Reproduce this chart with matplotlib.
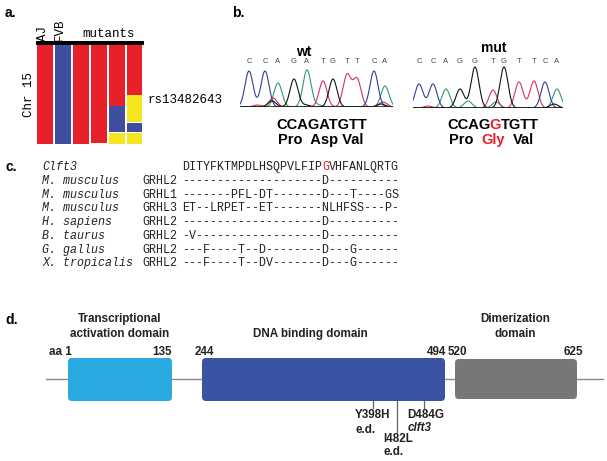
import matplotlib
matplotlib.use("Agg")
import matplotlib.pyplot as plt
import numpy as np
from matplotlib.font_manager import FontProperties
from matplotlib.patches import FancyBboxPatch
from matplotlib.textpath import TextPath

# ---- panel a: haplotype lanes (segments along Chr 15, 0 = top, 100 = bottom)
lane_labels = ["AJ", "FVB"]
lane_segments = [
    [(0, 100, "AJ")],
    [(0, 100, "FVB")],
    [(0, 100, "AJ")],
    [(0, 99, "AJ")],
    [(0, 61.6, "AJ"), (61.6, 87.9, "FVB"), (88.9, 100, "het")],
    [(0, 50.5, "AJ"), (50.5, 77.8, "het"), (78.5, 87.9, "FVB"), (89.2, 100, "het")],
]
marker_name = "rs13482643"

# ---- panel b: chromatograms (scan position, peak height, base)
wt_bases = list("CCAGATGTTCA")
wt_pos = [9, 25, 38, 54, 67, 83, 93, 107, 117, 134, 145]
wt_height = [36, 36, 24, 28, 37, 26, 28, 32, 28, 36, 21]
wt_minor_pos = [17, 33, 32, 66, 78, 143, 141]
wt_minor_height = [2, 9, 6, 2, 2, 5, 3]
wt_minor_base = ["T", "T", "G", "G", "A", "T", "G"]

mut_bases = list("CCAGGTGTTCA")
mut_pos = [6, 20, 33, 47, 62, 80, 91, 106, 121, 132, 144]
mut_height = [24, 24, 19, 19, 41, 18, 41, 26, 27, 26, 19]
mut_minor_pos = [55, 83, 15, 141]
mut_minor_height = [7, 6, 2, 4]
mut_minor_base = ["A", "A", "T", "G"]

wt_codons = "CCAGATGTT"
wt_aa = "Pro  Asp Val"
mut_codons = ["CCAG", "G", "TGTT"]
mut_aa = ["Pro", "Gly", "Val"]

# ---- panel c: alignment
ref_name = "Clft3"
ref_seq = "DITYFKTMPDLHSQPVLFIPGVHFANLQRTG"
mut_index = 20
species = ["M. musculus", "M. musculus", "M. musculus", "H. sapiens",
           "B. taurus", "G. gallus", "X. tropicalis"]
genes = ["GRHL2", "GRHL1", "GRHL3", "GRHL2", "GRHL2", "GRHL2", "GRHL2"]
aligned = [
    "--------------------D----------",
    "-------PFL-DT-------D---T----GS",
    "ET--LRPET--ET-------NLHFSS---P-",
    "--------------------D----------",
    "-V------------------D----------",
    "---F----T--D--------D---G------",
    "---F----T--DV-------D---G------",
]

# ---- panel d: GRHL2 domains
domain_names = ["Transcriptional\nactivation domain", "DNA binding domain",
                "Dimerization\ndomain"]
domain_start = [1, 244, 520]
domain_end = [135, 494, 625]
mutations = ["Y398H", "I482L", "D484G"]
mutation_note = ["e.d.", "e.d.", "clft3"]

RED = "#e8202a"
BLUE = "#3f4fa0"
YELLOW = "#f6e620"
hap_color = {"AJ": RED, "FVB": BLUE, "het": YELLOW}
trace_color = {"A": "#2f9a6a", "C": "#2f3f9c", "G": "#111111", "T": "#d6315f"}
domain_color = ["#29abe2", "#3a53a4", "#777777"]

W, H = 607, 461
fig = plt.figure(figsize=(W / 100, H / 100), dpi=100)
ax = fig.add_axes([0, 0, 1, 1])
ax.set_xlim(0, W)
ax.set_ylim(H, 0)
ax.axis("off")


def px_axes(x0, y0, x1, y1):
    a = fig.add_axes([x0 / W, 1 - y1 / H, (x1 - x0) / W, (y1 - y0) / H])
    a.axis("off")
    return a


SANS = "Liberation Sans"
MONO = "Liberation Mono"
for lbl, (x, y) in zip(["a.", "b.", "c.", "d."],
                       [(5, 13), (232, 13), (5, 167), (5, 320)]):
    ax.text(x, y, lbl, family=SANS, weight="bold", size=10, va="center")

# ---- panel a
axa = px_axes(36, 41.5, 143.5, 144)
axa.set_xlim(-0.5, 5.5)
axa.set_ylim(100, -3.2)
for i, segs in enumerate(lane_segments):
    for s, e, g in segs:
        axa.bar(i, e - s, bottom=s, width=0.88, color=hap_color[g], linewidth=0)
axa.axhspan(-3.2, 0, color="black", linewidth=0)
ax.text(42.5, 41, lane_labels[0], family=MONO, size=9, rotation=90,
        ha="center", va="bottom")
ax.text(60, 41, lane_labels[1], family=MONO, size=9, rotation=90,
        ha="center", va="bottom")
ax.text(109, 40, "mutants", family=MONO, size=9, ha="center", va="bottom")
ax.text(29, 94.5, "Chr 15", family=MONO, size=9, rotation=90,
        ha="center", va="center")
ax.text(148, 100, marker_name, family=MONO, size=9, va="center")


# ---- panel b
def chromatogram(box, xmax, pos, height, bases, mpos, mheight, mbase, ytxt):
    a = px_axes(*box)
    a.set_xlim(0, xmax)
    a.set_ylim(0, 44)
    xs = np.linspace(0, xmax, 800)
    for b in "ATCG":
        y = np.zeros_like(xs)
        for p, h, bb in zip(pos + mpos, height + mheight, bases + mbase):
            if bb == b:
                y += h * np.exp(-0.5 * ((xs - p) / 4.0) ** 2)
        a.plot(xs, y, color=trace_color[b], lw=0.8)
    a.axhline(0, color="#222222", lw=1.2)
    for p, b in zip(pos, bases):
        a.text(p, ytxt, b, family=SANS, size=5.5, color="#444444",
               ha="center", va="center")
    return a


chromatogram((240, 63, 393, 107), 153, wt_pos, wt_height, wt_bases,
             wt_minor_pos, wt_minor_height, wt_minor_base, 45.5)
chromatogram((413, 64, 563, 108), 150, mut_pos, mut_height, mut_bases,
             mut_minor_pos, mut_minor_height, mut_minor_base, 46.5)

ax.text(304, 52, "wt", family=SANS, weight="bold", size=10, ha="center", va="center")
ax.text(494, 48, "mut", family=SANS, weight="bold", size=10, ha="center", va="center")
BIG = dict(family=SANS, weight="bold", size=10.5)
ax.text(322, 125, wt_codons, ha="center", va="center", **BIG)
ax.text(321, 140, wt_aa, ha="center", va="center", **BIG)

big_prop = FontProperties(family=SANS, weight="bold", size=10.5)
big_px = 10.5 * 100 / 72


def ink_right(s):
    return TextPath((0, 0), s, size=big_px, prop=big_prop).get_extents().x1


def pen_x(s, k):
    # pen position of glyph k inside string s (unhinted layout)
    return ink_right(s[:k + 1]) - ink_right(s[k])


# mutant codon row: each coloured piece starts at its pen position in the word
full = "".join(mut_codons)
x0 = 493 - ink_right(full) / 2
k = 0
for s, c in zip(mut_codons, ["black", RED, "black"]):
    ax.text(x0 + (pen_x(full, k) if k else 0), 125, s, color=c,
            ha="left", va="center", **BIG)
    k += len(s)

# amino-acid row with word gaps
gap = 8
widths = [ink_right(s) for s in mut_aa]
x = 491 - (sum(widths) + gap * (len(mut_aa) - 1)) / 2
for s, c, w in zip(mut_aa, ["black", RED, "black"], widths):
    ax.text(x, 140, s, color=c, ha="left", va="center", **BIG)
    x += w + gap

# ---- panel c
TXT = "#222222"
CSIZE = 8.4
cw = 0.6 * CSIZE * 100 / 72  # monospace advance in px
row_y0, row_dy = 167, 13.75
ax.text(42, row_y0, ref_name, family=MONO, style="italic", size=CSIZE,
        color=TXT, va="center")
ax.text(182, row_y0, ref_seq[:mut_index], family=MONO, size=CSIZE,
        color=TXT, va="center")
ax.text(182 + cw * mut_index, row_y0, ref_seq[mut_index], family=MONO,
        size=CSIZE, color=RED, va="center")
ax.text(182 + cw * (mut_index + 1), row_y0, ref_seq[mut_index + 1:],
        family=MONO, size=CSIZE, color=TXT, va="center")
for i, (sp, g, s) in enumerate(zip(species, genes, aligned)):
    y = row_y0 + row_dy * (i + 1)
    ax.text(42, y, sp, family=MONO, style="italic", size=CSIZE, color=TXT,
            va="center")
    ax.text(142, y, g, family=MONO, size=CSIZE, color=TXT, va="center")
    ax.text(182, y, s, family=MONO, size=CSIZE, color=TXT, va="center")

# ---- panel d
ax.plot([46, 603], [379, 379], color="#8a8a8a", lw=1, zorder=1)
box_x = [(68, 172), (202, 445), (455, 577)]
box_y = [(358, 401), (358, 401), (359, 399)]
label_x = [120, 310, 515]
for (bx0, bx1), (by0, by1), c in zip(box_x, box_y, domain_color):
    ax.add_patch(FancyBboxPatch((bx0, by0), bx1 - bx0, by1 - by0,
                                boxstyle="round,pad=0,rounding_size=4",
                                facecolor=c, edgecolor="none", zorder=2))
for name, lx in zip(domain_names, label_x):
    ax.text(lx, 337, name, family=SANS, weight="bold", size=8.4, ha="center",
            va="baseline", linespacing=1.3, color="#222222")

num_txt = ["aa " + str(domain_start[0]), str(domain_end[0]), str(domain_start[1]),
           str(domain_end[1]), str(domain_start[2]), str(domain_end[2])]
num_x = [72, 172, 195, 446, 448, 583]
num_ha = ["right", "right", "left", "right", "left", "right"]
for t, nx, ha in zip(num_txt, num_x, num_ha):
    ax.text(nx, 355, t, family=SANS, weight="bold", size=8.4, ha=ha,
            va="baseline", color="#222222")

tick_x = [373, 397, 424]
tick_end = [408, 432, 408]
lab_x = [355, 383, 407]
lab_y = [418, 442, 418]
note_y = [433, 455, 431]
for m, note, tx, te, lx, ly, ny in zip(mutations, mutation_note, tick_x,
                                        tick_end, lab_x, lab_y, note_y):
    ax.plot([tx, tx], [401, te], color="#666666", lw=0.9)
    ax.text(lx, ly, m, family=SANS, weight="bold", size=8.4, va="baseline",
            color="#222222")
    ax.text(lx + 1, ny, note, family=SANS, weight="bold", size=8.4,
            va="baseline", color="#222222",
            style="italic" if note == "clft3" else "normal")

fig.savefig("out.png", dpi=100)
